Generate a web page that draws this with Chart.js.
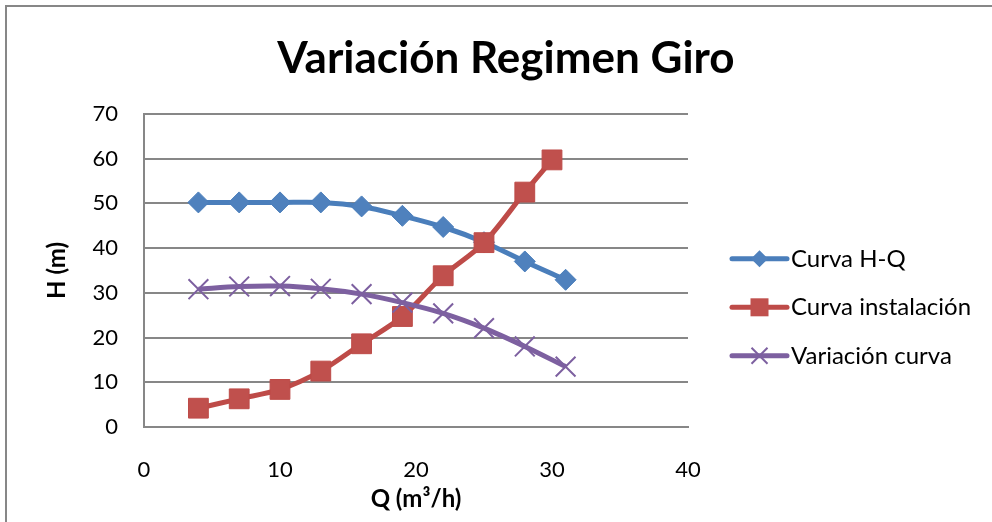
<!DOCTYPE html>
<html>
<head>
<meta charset="utf-8">
<script src="https://cdn.jsdelivr.net/npm/chart.js@4.4.1/dist/chart.umd.min.js"></script>
<style>
  html, body { margin: 0; padding: 0; background: #fff; overflow: hidden; }
  #wrap { width: 992px; height: 522px; position: relative; }
  /* marco gris: solo se ven los bordes superior e izquierdo */
  #marco {
    position: absolute; left: 5px; top: 5px; right: 0; bottom: 0;
    border-left: 2px solid #878787; border-top: 2px solid #878787;
    pointer-events: none;
  }
</style>
</head>
<body>
<div id="wrap"><canvas id="myChart"></canvas><div id="marco"></div></div>
<script>
// caudal Q (m3/h) y altura H (m) de cada curva
const caudal = [4, 7, 10, 13, 16, 19, 22, 25, 28, 31];
const caudalInstalacion = [4, 7, 10, 13, 16, 19, 22, 25, 28, 30];
const alturaHQ = [50.2, 50.2, 50.2, 50.2, 49.3, 47.2, 44.7, 41.3, 37.0, 32.9];
const alturaInstalacion = [4.2, 6.3, 8.4, 12.5, 18.6, 24.7, 33.8, 41.2, 52.5, 59.7];
const alturaVariacion = [30.8, 31.4, 31.5, 30.9, 29.7, 27.8, 25.4, 22.1, 18.0, 13.5];
const nombres = ["Curva H-Q", "Curva instalación", "Variación curva"];
const xTicks = [0, 10, 20, 30, 40];
const yTicks = [0, 10, 20, 30, 40, 50, 60, 70];

const FONT = "Lato";
const gris = "#878787";

function puntos(xs, ys) {
	return xs.map((x, i) => ({ x: x, y: ys[i] }));
}

// dibuja el marcador de cada serie (rombo, cuadrado o aspa)
function marcador(ctx, estilo, x, y, r, ds) {
	ctx.save();
	ctx.beginPath();
	if (estilo === "rectRot") {
		ctx.moveTo(x - r, y);
		ctx.lineTo(x, y - r);
		ctx.lineTo(x + r, y);
		ctx.lineTo(x, y + r);
		ctx.closePath();
		ctx.fillStyle = ds.pointBackgroundColor;
		ctx.fill();
	} else if (estilo === "rect") {
		ctx.fillStyle = ds.pointBackgroundColor;
		ctx.fillRect(x - r, y - r, 2 * r, 2 * r);
	} else {
		ctx.moveTo(x - r, y - r);
		ctx.lineTo(x + r, y + r);
		ctx.moveTo(x - r, y + r);
		ctx.lineTo(x + r, y - r);
		ctx.strokeStyle = ds.pointBorderColor;
		ctx.lineWidth = 2;
		ctx.stroke();
	}
	ctx.restore();
}

// leyenda a la derecha del área de trazado (caja propia del layout)
const leyenda = {
	id: "leyendaLateral",
	beforeInit(chart) {
		const box = {
			position: "right",
			weight: 0,
			fullSize: false,
			options: {},
			left: 0, top: 0, right: 0, bottom: 0, width: 0, height: 0,
			isHorizontal() { return false; },
			update(maxWidth, maxHeight) {
				this.width = 304;
				this.height = maxHeight;
			},
			draw() {
				const ctx = chart.ctx;
				const area = chart.chartArea;
				const tamanos = [8.5, 9, 8];
				chart.data.datasets.forEach((ds, i) => {
					const y = area.top + 145 + i * 48.5;
					const x0 = this.left + 44;
					ctx.save();
					ctx.strokeStyle = ds.borderColor;
					ctx.lineWidth = 5;
					ctx.lineCap = "round";
					ctx.beginPath();
					ctx.moveTo(x0, y);
					ctx.lineTo(x0 + 55, y);
					ctx.stroke();
					ctx.restore();
					marcador(ctx, ds.pointStyle, x0 + 27.5, y, tamanos[i], ds);
					ctx.save();
					ctx.fillStyle = "#000";
					ctx.font = "24px " + FONT;
					ctx.textBaseline = "middle";
					ctx.fillText(ds.label, x0 + 59, y);
					ctx.restore();
				});
			}
		};
		Chart.layouts.addBox(chart, box);
	}
};

const myChart = new Chart(document.getElementById("myChart"), {
	type: "scatter",
	data: {
		datasets: [
			{
				label: nombres[0],
				data: puntos(caudal, alturaHQ),
				showLine: true,
				borderColor: "#4A7EBB",
				borderWidth: 5,
				tension: 0.33,
				pointStyle: "rectRot",
				pointRadius: 10.5,
				pointBackgroundColor: "#4F81BD",
				pointBorderColor: "#4A7EBB",
				pointBorderWidth: 1,
				order: 3,
			},
			{
				label: nombres[1],
				data: puntos(caudalInstalacion, alturaInstalacion),
				showLine: true,
				borderColor: "#BE4B48",
				borderWidth: 5,
				tension: 0.33,
				pointStyle: "rect",
				pointRadius: 14,
				pointBackgroundColor: "#C0504D",
				pointBorderColor: "#BE4B48",
				pointBorderWidth: 1,
				order: 2,
			},
			{
				label: nombres[2],
				data: puntos(caudal, alturaVariacion),
				showLine: true,
				borderColor: "#7D60A0",
				borderWidth: 5,
				tension: 0.33,
				pointStyle: "crossRot",
				pointRadius: 14,
				pointBackgroundColor: "#7D60A0",
				pointBorderColor: "#7D60A0",
				pointBorderWidth: 2,
				order: 1,
			},
		],
	},
	options: {
		responsive: true,
		maintainAspectRatio: false,
		animation: false,
		events: [],
		layout: { padding: { left: 20, right: 0, top: 0, bottom: 0 } },
		plugins: {
			legend: { display: false },
			tooltip: { enabled: false },
			title: {
				display: true,
				text: "Variación Regimen Giro",
				color: "#000",
				font: { family: FONT, size: 44, weight: "bold" },
				padding: { top: 32, bottom: 29 },
			},
		},
		scales: {
			x: {
				type: "linear",
				min: 0,
				max: 40,
				afterBuildTicks: (s) => { s.ticks = xTicks.map((v) => ({ value: v })); },
				afterFit: (s) => { s.height = 95; },
				grid: { display: false, drawTicks: false },
				border: { color: gris, width: 2 },
				ticks: { padding: 30, color: "#000", font: { family: FONT, size: 22 } },
				title: {
					display: true,
					text: "Q (m³/h)",
					color: "#000",
					font: { family: FONT, size: 24, weight: "bold" },
					padding: { top: 0, bottom: 8 },
				},
			},
			y: {
				min: 0,
				max: 70,
				afterBuildTicks: (s) => { s.ticks = yTicks.map((v) => ({ value: v })); },
				afterFit: (s) => { s.width = 124; },
				grid: { color: gris, lineWidth: 2, drawTicks: false },
				border: { color: gris, width: 2 },
				ticks: { padding: 26, color: "#000", font: { family: FONT, size: 22 } },
				title: {
					display: true,
					text: "H (m)",
					color: "#000",
					font: { family: FONT, size: 24, weight: "bold" },
					padding: { top: 23, bottom: 0 },
				},
			},
		},
	},
	plugins: [leyenda],
});
</script>
</body>
</html>
